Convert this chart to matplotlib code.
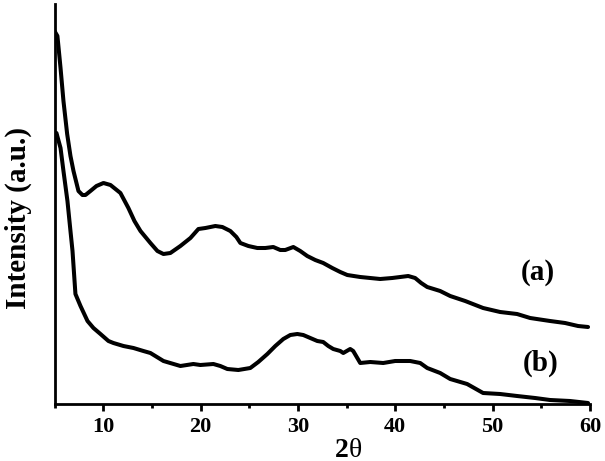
import matplotlib
matplotlib.use("Agg")
import matplotlib.pyplot as plt
from matplotlib.ticker import MultipleLocator

# Curve (a)
xa = [5.0, 5.3, 5.62, 5.92, 6.30, 6.64, 6.95, 7.46, 7.87, 8.18, 8.69, 9.31, 10.03, 10.75,
      11.77, 12.59, 13.21, 13.83, 14.34, 14.85, 15.57, 16.19, 16.90, 17.93, 18.96, 19.78,
      20.50, 21.52, 22.24, 23.06, 23.68, 24.09, 24.91, 25.83, 26.65, 27.47, 28.19, 28.70,
      29.53, 30.24, 30.96, 31.78, 32.60, 33.53, 34.35, 35.07, 36.40, 38.45, 39.68, 40.51,
      41.33, 42.04, 42.66, 43.28, 44.61, 45.64, 47.18, 49.02, 50.77, 52.51, 53.85, 55.90,
      57.44, 58.77, 59.80]
ya = [373, 368, 336, 303, 270, 248, 233, 213, 209, 209, 213, 218, 221, 219,
      211, 196, 183, 173, 167, 161, 153, 150, 151, 158, 166, 175,
      176, 178, 177, 173, 167, 161, 158, 156, 156, 157, 154, 154,
      157, 153, 148, 144, 141, 136, 132, 129, 127, 125, 126, 127,
      128, 126, 121, 117, 113, 108, 103, 96, 92, 90, 86, 83,
      81, 78, 77]

# Curve (b)
xb = [5.0, 5.2, 5.62, 5.92, 6.33, 6.64, 6.85, 7.15, 7.67, 8.39, 9.0, 9.72, 10.54, 11.05,
      12.08, 13.11, 14.13, 14.85, 16.19, 17.93, 19.26, 19.98, 21.32, 22.03, 22.75, 23.88,
      25.11, 25.93, 26.86, 27.68, 28.50, 29.22, 29.94, 30.55, 31.27, 31.99, 32.60, 33.12,
      33.63, 34.35, 34.66, 35.37, 35.68, 36.40, 37.43, 38.76, 39.99, 41.53, 42.56, 43.28,
      44.61, 45.64, 47.38, 49.02, 50.77, 52.51, 54.36, 55.90, 57.95, 59.80]
yb = [268, 271, 256, 233, 203, 173, 153, 110, 98, 83, 76, 70, 63, 61,
      58, 56, 53, 51, 43, 38, 40, 39, 40, 38, 35, 34,
      36, 42, 50, 58, 65, 69, 70, 69, 66, 63, 62, 58,
      55, 53, 51, 55, 53, 41, 42, 41, 43, 43, 41, 36,
      31, 25, 20, 11, 10, 8, 6, 4, 3, 1]

xticks = [10, 20, 30, 40, 50, 60]
labels = ["(a)", "(b)"]

plt.rcParams['font.family'] = ['Liberation Serif', 'DejaVu Serif']

fig = plt.figure(figsize=(6.05, 4.61), dpi=100)
ax = fig.add_axes([54.5/605, (461-404)/461, (590-54.5)/605, 400/461])

ax.plot(xa, ya, color='black', lw=2.9, solid_joinstyle='round', solid_capstyle='round')
ax.plot(xb, yb, color='black', lw=2.9, solid_joinstyle='round', solid_capstyle='round')

ax.set_xlim(5, 60)
ax.set_ylim(0, 400)
ax.set_xticks(xticks)
ax.xaxis.set_minor_locator(MultipleLocator(5))
ax.set_yticks([])
for s in ['top', 'right']:
    ax.spines[s].set_visible(False)
for s in ['left', 'bottom']:
    ax.spines[s].set_linewidth(2.0)
ax.tick_params(axis='x', which='major', direction='out', length=5, width=2.0,
               labelsize=16, pad=4)
ax.tick_params(axis='x', which='minor', direction='out', length=3, width=2.0)
for t in ax.get_xticklabels():
    t.set_fontweight('bold')

ax.text(5 + (538 - 54.5) / 9.736, 404 - 273, labels[0], fontsize=21, fontweight='bold',
        ha='center', va='center')
ax.text(5 + (541 - 54.5) / 9.736, 404 - 363, labels[1], fontsize=21, fontweight='bold',
        ha='center', va='center')

fig.text(349/605, 1 - 450/461, "2", fontsize=20, fontweight='bold',
         ha='right', va='center')
fig.text(349/605, 1 - 450/461, "θ", fontsize=20, fontweight='normal',
         ha='left', va='center')
fig.text(18/605, 1 - 218/461, "Intensity (a.u.)", fontsize=21, fontweight='bold',
         ha='center', va='center', rotation=90)

fig.savefig("out.png", dpi=100)
